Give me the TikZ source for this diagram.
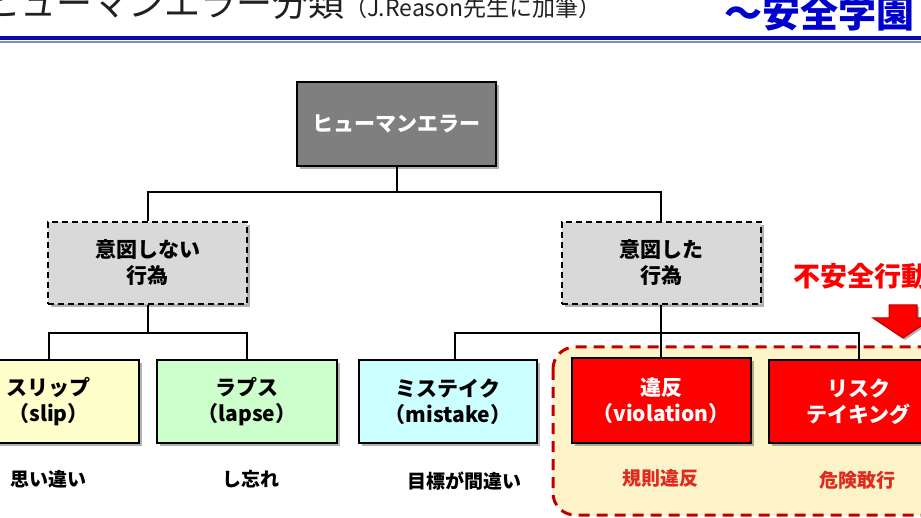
\documentclass[tikz,border=0pt]{standalone}
\usepackage{fontspec}
\newfontfamily\jp{Noto Sans CJK JP}
\usetikzlibrary{shadows,calc}
\definecolor{humangray}{HTML}{7F7F7F}
\definecolor{lightgray}{HTML}{D9D9D9}
\definecolor{slipcol}{HTML}{FFFFCC}
\definecolor{lapsecol}{HTML}{CCFFCC}
\definecolor{mistcol}{HTML}{CCFFFF}
\definecolor{redbox}{HTML}{FF0000}
\definecolor{darkred}{HTML}{C00000}
\definecolor{regionfill}{HTML}{FCF4C8}
\definecolor{labred}{HTML}{E02A1E}
\definecolor{blueA}{HTML}{0A0AAA}
\definecolor{blueB}{HTML}{7F8CC8}
\definecolor{titleblue}{HTML}{0000CC}
\definecolor{titletext}{HTML}{202020}
\begin{document}
\begin{tikzpicture}[x=1pt,y=-1pt,
  box/.style={draw=black, line width=2pt, minimum height=83pt, inner sep=0pt, align=center,
    font={\jp\bfseries\fontsize{21}{26}\selectfont},
    drop shadow={shadow xshift=3pt, shadow yshift=-3pt, opacity=0.3, fill=black}},
  dbox/.style={box, dash pattern=on 6pt off 4pt, fill=lightgray, minimum width=199pt, minimum height=82pt},
  rbox/.style={box, fill=redbox, text=white, minimum width=179pt},
  lab/.style={inner sep=0pt, font={\jp\bfseries\fontsize{19}{19}\selectfont}},
  conn/.style={draw=black, line width=2pt},
]
\useasboundingbox (0,0) rectangle (921,518);
% header
\node[anchor=base west, inner sep=0pt, text=titletext] (title) at (-16,17)
  {\jp\fontsize{36}{36}\selectfont ヒューマンエラー分類\fontsize{23}{23}\selectfont （J.Reason先生に加筆）};
\node[anchor=base west, inner sep=0pt, text=titleblue] (school) at (724,28)
  {\jp\bfseries\fontsize{38}{38}\selectfont ～安全学園};
\fill[blueA] (0,36) rectangle (921,40);
\fill[blueB] (0,40.7) rectangle (921,42.7);

% unsafe region
\draw[darkred, line width=3pt, dash pattern=on 11pt off 7pt, fill=regionfill, rounded corners=22pt]
  (553,347) rectangle (985,515);
\node[anchor=base west, inner sep=0pt, text=redbox] (unsafe) at (793,287)
  {\jp\bfseries\fontsize{27}{27}\selectfont 不安全行動};
\fill[redbox, draw=darkred, line width=1pt, drop shadow={shadow xshift=2pt, shadow yshift=-2pt, opacity=0.3, fill=black}]
  (889,305) -- (917,305) -- (917,318) -- (933,318) -- (903,338) -- (873,318) -- (889,318) -- cycle;

% nodes
\node[box, fill=humangray, text=white, minimum width=199pt, minimum height=84pt] (human) at (396.5,124) {ヒューマンエラー};
\node[dbox] (unint) at (147.5,263) {意図しない\\行為};
\node[dbox] (int) at (661,263) {意図した\\行為};
\node[box, fill=slipcol, minimum width=180pt] (slip) at (48.5,401.5) {スリップ\\（slip）};
\node[box, fill=lapsecol, minimum width=180pt] (lapse) at (247,401.5) {ラプス\\（lapse）};
\node[box, fill=mistcol, minimum width=178pt] (mist) at (448,401.5) {ミステイク\\（mistake）};
\node[rbox, minimum height=85pt] (viol) at (661,400.5) {違反\\（violation）};
\node[rbox] (risk) at (858.5,401.5) {リスク\\テイキング};

% connectors
\coordinate (bus1) at (0,192);
\coordinate (bus2) at (0,333);
\coordinate (mtop) at ($(mist.north)+(7,0)$);
\draw[conn] (human.south) -- (bus1 -| human.south);
\draw[conn] (unint.north) |- (bus1 -| human.south) -| (int.north);
\draw[conn] (unint.south) -- (bus2 -| unint.south);
\draw[conn] (slip.north) |- (bus2 -| unint.south) -| (lapse.north);
\draw[conn] (int.south) -- (bus2 -| int.south);
\draw[conn] (mtop) |- (bus2 -| int.south) -| (risk.north);
\draw[conn] (viol.north) -- (bus2 -| viol.north);

% labels
\node[lab] (l1) at (48,479) {思い違い};
\node[lab] (l2) at (251,479) {し忘れ};
\node[lab] (l3) at (464,481) {目標が間違い};
\node[lab, text=labred] (l4) at (660,478) {規則違反};
\node[lab, text=labred] (l5) at (857,480) {危険敢行};
\end{tikzpicture}
\end{document}
